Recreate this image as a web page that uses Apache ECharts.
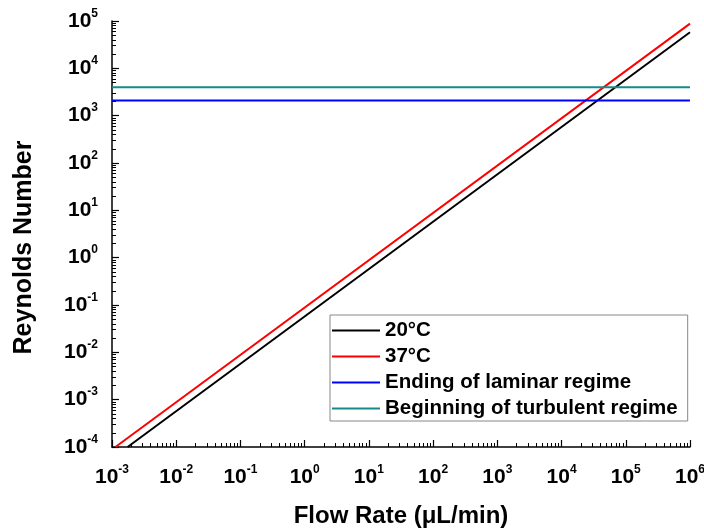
<!DOCTYPE html>
<html>
<head>
<meta charset="utf-8">
<script src="https://cdn.jsdelivr.net/npm/echarts@6/dist/echarts.min.js"></script>
<style>
  html, body { margin: 0; padding: 0; background: #fff; }
  #chart { width: 704px; height: 530px; }
</style>
</head>
<body>
<div id="chart"></div>
<script>
// data (Re = k * Q on log-log axes)
const flowRange = [1e-3, 1e6];
const re20 = [[1.75e-3, 1e-4], [1e6, 5.8e4]];
const re37 = [[1.13e-3, 1e-4], [1e6, 8.8e4]];
const laminarEnd = 2100;
const turbulentStart = 4000;

const seriesNames = ["20°C", "37°C", "Ending of laminar regime", "Beginning of turbulent regime"];
const seriesColors = ["#000000", "#ff0000", "#0000ff", "#168a8a"];

// tick labels: powers of ten
const xExponents = [-3, -2, -1, 0, 1, 2, 3, 4, 5, 6];
const yExponents = [-4, -3, -2, -1, 0, 1, 2, 3, 4, 5];
const minorMultipliers = [2, 3, 4, 5, 6, 7, 8, 9];

function minorValues(exps) {
  const out = [];
  for (let i = 0; i < exps.length - 1; i++) {
    minorMultipliers.forEach(m => out.push(m * Math.pow(10, exps[i])));
  }
  return out;
}

const font = "Liberation Sans, Arial, sans-serif";
const powRich = {
  b: { fontFamily: font, fontWeight: "bold", fontSize: 21, color: "#000", lineHeight: 22 },
  s: { fontFamily: font, fontWeight: "bold", fontSize: 12, color: "#000", lineHeight: 13, padding: [0, 0, 15, 0] }
};
function powLabel(v) {
  const e = Math.round(Math.log10(v));
  return "{b|10}{s|" + e + "}";
}

const chart = echarts.init(document.getElementById("chart"));

const majorAxis = (min, max, name, nameGap, rotate, margin) => ({
  type: "log",
  logBase: 10,
  min: min,
  max: max,
  name: name,
  nameLocation: "middle",
  nameGap: nameGap,
  nameRotate: rotate,
  nameMoveOverlap: false,
  nameTextStyle: { fontFamily: font, fontWeight: "bold", fontSize: 24, color: "#000" },
  axisLine: { show: true, lineStyle: { color: "#000", width: 1.5 } },
  axisTick: { show: true, inside: true, length: 7, lineStyle: { color: "#000", width: 1.2 } },
  axisLabel: { margin: margin, formatter: powLabel, rich: powRich },
  splitLine: { show: false }
});

const minorAxis = (min, max, exps, pos) => ({
  type: "log",
  logBase: 10,
  min: min,
  max: max,
  position: pos,
  axisLine: { show: false },
  axisLabel: { show: false },
  axisTick: {
    show: true, inside: true, length: 4,
    customValues: minorValues(exps),
    lineStyle: { color: "#000", width: 1 }
  },
  splitLine: { show: false }
});

const xMain = majorAxis(flowRange[0], flowRange[1], "Flow Rate (μL/min)", 57, 0, 19);
xMain.position = "bottom";
const yMain = majorAxis(1e-4, 1e5, "Reynolds Number", 75, 90, 14);
yMain.position = "left";
yMain.nameTextStyle.fontSize = 25;
yMain.nameTextStyle.padding = [0, 27, 0, 0];

chart.setOption({
  backgroundColor: "#fff",
  animation: false,
  grid: { left: 112, right: 14, top: 21, bottom: 83, containLabel: false, outerBoundsMode: "none" },
  legend: {
    orient: "vertical",
    left: 330,
    top: 315,
    padding: [5, 10, 2, 2],
    itemWidth: 48,
    itemHeight: 2,
    itemGap: 5,
    icon: "rect",
    borderColor: "#888",
    borderWidth: 1,
    textStyle: { fontFamily: font, fontWeight: "bold", fontSize: 20.5, lineHeight: 20, color: "#000" },
    data: seriesNames
  },
  xAxis: [xMain, minorAxis(flowRange[0], flowRange[1], xExponents, "bottom")],
  yAxis: [yMain, minorAxis(1e-4, 1e5, yExponents, "left")],
  series: [
    { name: seriesNames[0], type: "line", data: re20 },
    { name: seriesNames[1], type: "line", data: re37 },
    { name: seriesNames[2], type: "line", data: [[flowRange[0], laminarEnd], [flowRange[1], laminarEnd]] },
    { name: seriesNames[3], type: "line", data: [[flowRange[0], turbulentStart], [flowRange[1], turbulentStart]] }
  ].map((s, i) => Object.assign(s, {
    xAxisIndex: 0,
    yAxisIndex: 0,
    symbol: "none",
    color: seriesColors[i],
    lineStyle: { color: seriesColors[i], width: 2 }
  }))
});
</script>
</body>
</html>
